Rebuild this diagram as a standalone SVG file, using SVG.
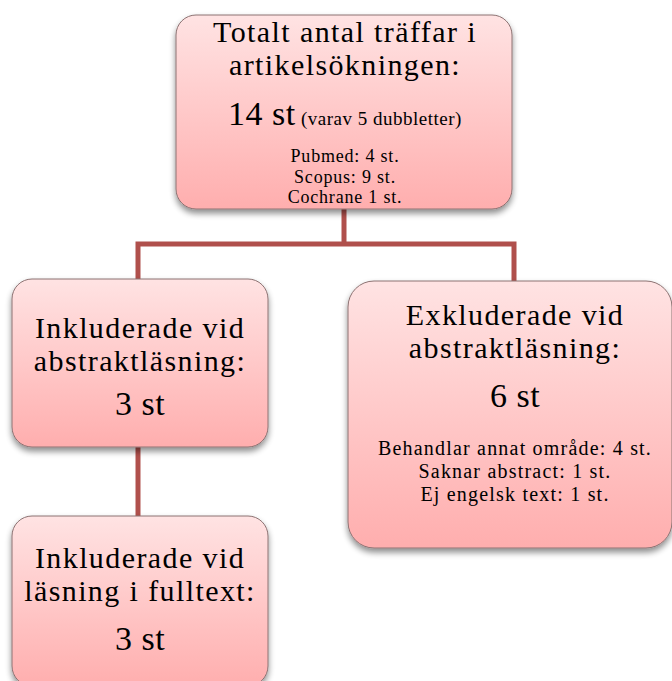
<svg xmlns="http://www.w3.org/2000/svg" width="672" height="681" viewBox="0 0 672 681">
<defs>
<linearGradient id="g" x1="0" y1="0" x2="0" y2="1">
<stop offset="0" stop-color="#ffe3e3"/>
<stop offset="1" stop-color="#ffaeae"/>
</linearGradient>
<filter id="sh" x="-10%" y="-10%" width="120%" height="125%">
<feGaussianBlur in="SourceAlpha" stdDeviation="3"/>
<feOffset dy="4" result="b"/>
<feComponentTransfer><feFuncA type="linear" slope="0.45"/></feComponentTransfer>
<feMerge><feMergeNode/><feMergeNode in="SourceGraphic"/></feMerge>
</filter>
</defs>
<style>
.box{fill:url(#g);stroke:#8c7272;stroke-width:1;filter:url(#sh)}
.t{font-family:"Liberation Serif","DejaVu Serif",serif;fill:#000;text-anchor:middle}
.big{font-size:30px;letter-spacing:1.4px}
.num{font-size:34px;letter-spacing:0.5px}
.sm{font-size:18px;letter-spacing:0.8px}
.xs{font-size:19px;letter-spacing:0.5px}
.md{font-size:20px;letter-spacing:1.2px}
.con{fill:none;stroke:#b0504c;stroke-width:5}
</style>
<rect width="672" height="681" fill="#fff"/>
<g id="connectors">
<path class="con" d="M344 208 V244 M138 280 V244 H514 V284"/>
<path class="con" d="M138 446 V518"/>
</g>
<g id="top">
<rect class="box" x="176" y="15" width="336" height="194" rx="20"/>
<text class="t big" x="345" y="42">Totalt antal träffar i</text>
<text class="t big" x="345" y="75">artikelsökningen:</text>
<text class="t" x="345" y="125"><tspan class="num">14 st</tspan><tspan class="xs"> (varav 5 dubbletter)</tspan></text>
<text class="t sm" x="345" y="162">Pubmed: 4 st.</text>
<text class="t sm" x="345" y="182.5">Scopus: 9 st.</text>
<text class="t sm" x="345" y="203">Cochrane 1 st.</text>
</g>
<g id="incl-abstract">
<rect class="box" x="12" y="279" width="256" height="168" rx="20"/>
<text class="t big" x="140" y="338">Inkluderade vid</text>
<text class="t big" x="140" y="371">abstraktläsning:</text>
<text class="t num" x="140" y="415">3 st</text>
</g>
<g id="excl-abstract">
<rect class="box" x="348" y="281" width="324" height="267" rx="26"/>
<text class="t big" x="515" y="325">Exkluderade vid</text>
<text class="t big" x="515" y="358">abstraktläsning:</text>
<text class="t num" x="515" y="407">6 st</text>
<text class="t md" x="515" y="455">Behandlar annat område: 4 st.</text>
<text class="t md" x="515" y="478">Saknar abstract: 1 st.</text>
<text class="t md" x="515" y="501">Ej engelsk text: 1 st.</text>
</g>
<g id="incl-fulltext">
<rect class="box" x="12" y="516" width="256" height="170" rx="20"/>
<text class="t big" x="140" y="568">Inkluderade vid</text>
<text class="t big" x="140" y="601">läsning i fulltext:</text>
<text class="t num" x="140" y="650">3 st</text>
</g>
</svg>
